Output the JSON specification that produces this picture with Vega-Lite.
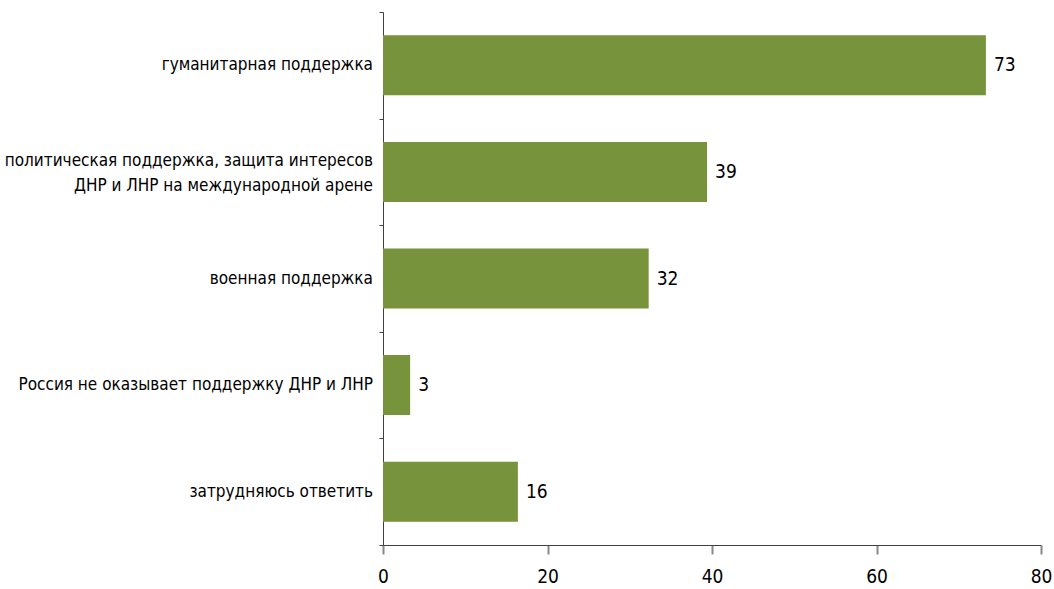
{
  "$schema": "https://vega.github.io/schema/vega-lite/v6.json",
  "autosize": {"type": "none"},
  "padding": {"left": 383, "top": 12, "right": 13, "bottom": 44},
  "width": 658,
  "height": 533,
  "background": "white",
  "config": {"view": {"stroke": null}, "font": "Liberation Sans Narrow, DejaVu Sans Condensed, sans-serif"},
  "data": {"values": [
    {"category": "гуманитарная поддержка", "value": 73.3},
    {"category": "политическая поддержка, защита интересов\nДНР и ЛНР на международной арене", "value": 39.4},
    {"category": "военная поддержка", "value": 32.3},
    {"category": "Россия не оказывает поддержку ДНР и ЛНР", "value": 3.3},
    {"category": "затрудняюсь ответить", "value": 16.4}
  ]},
  "encoding": {
    "y": {"field": "category", "type": "nominal", "sort": null,
      "scale": {"paddingInner": 0, "paddingOuter": 0},
      "axis": {"title": null, "labels": false, "tickSize": 4,
        "tickBand": "extent", "domainColor": "#404040", "tickColor": "#404040"}},
    "x": {"field": "value", "type": "quantitative",
      "scale": {"domain": [0, 80]},
      "axis": {"title": null, "values": [0, 20, 40, 60, 80], "grid": false, "labelFontSize": 19,
        "labelFlush": false, "labelColor": "black", "tickSize": 9, "labelPadding": 13, "domainColor": "#404040",
        "tickColor": "#888888", "tickWidth": 2}}
  },
  "layer": [
    {"mark": {"type": "bar", "color": "#77933C", "height": {"band": 0.563}}},
    {"mark": {"type": "text", "align": "left", "dx": 8, "fontSize": 19, "color": "black"},
     "encoding": {"text": {"field": "value", "type": "quantitative", "format": ".0f"}}},
    {"transform": [{"filter": "indexof(datum.category, '\\n') < 0"}],
     "mark": {"type": "text", "align": "right", "baseline": "middle", "dx": -10, "fontSize": 17, "color": "black"},
     "encoding": {"x": {"datum": 0}, "text": {"field": "category", "type": "nominal"}}},
    {"transform": [{"filter": "indexof(datum.category, '\\n') >= 0"}],
     "mark": {"type": "text", "align": "right", "baseline": "middle", "dx": -10, "dy": -11, "lineBreak": "\n", "lineHeight": 25, "fontSize": 17, "color": "black"},
     "encoding": {"x": {"datum": 0}, "text": {"field": "category", "type": "nominal"}}}
  ]
}
